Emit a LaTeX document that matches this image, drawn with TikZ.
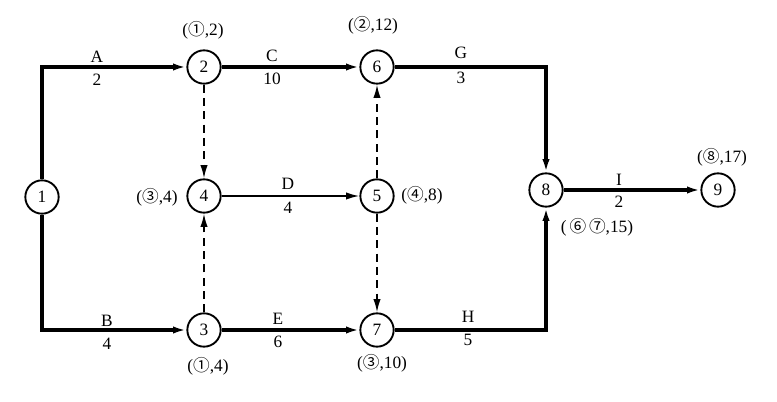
\documentclass[tikz,border=0pt]{standalone}
\usepackage{fontspec}
\setmainfont{Liberation Serif}
\newfontfamily\circfont{Noto Sans CJK SC}
\usetikzlibrary{arrows.meta}
\newcommand{\cn}[1]{{\circfont\fontsize{12.5}{14}\selectfont #1}}
\begin{document}
\begin{tikzpicture}[x=0.75pt,y=-0.75pt,
  ev/.style={circle,draw,line width=1.4pt,minimum size=25pt,inner sep=0pt,font=\fontsize{13}{15}\selectfont},
  lbl/.style={inner sep=0pt,font=\fontsize{13}{15}\selectfont},
  crit/.style={line width=2.3pt,-{Latex[length=10pt,width=5.5pt]}},
  norm/.style={line width=1.3pt,-{Latex[length=10pt,width=5.5pt]}},
  dum/.style={line width=1.2pt,dash pattern=on 6pt off 4pt,-{Latex[length=10pt,width=5.5pt]}}]
\useasboundingbox[fill=white] (0,0) rectangle (777,402);
% events
\node[ev] (n1) at (42,197) {1};
\node[ev] (n2) at (204,67) {2};
\node[ev] (n6) at (377,67) {6};
\node[ev] (n4) at (204,196) {4};
\node[ev] (n5) at (377,196) {5};
\node[ev] (n3) at (204,330) {3};
\node[ev] (n7) at (377,330) {7};
\node[ev] (n8) at (546,190) {8};
\node[ev] (n9) at (718,190) {9};
% activities
\draw[crit] (n1) |- (n2);
\draw[crit] (n1) |- (n3);
\draw[crit] (n2) -- (n6);
\draw[crit] (n3) -- (n7);
\draw[crit] (n6) -| (n8);
\draw[crit] (n7) -| (n8);
\draw[crit] (n8) -- (n9);
\draw[norm] (n4) -- (n5);
% dummies
\draw[dum] (n2) -- (n4);
\draw[dum] (n3) -- (n4);
\draw[dum] (n5) -- (n6);
\draw[dum] (n5) -- (n7);
% activity labels
\node[lbl] (lA) at (97,57) {A};   \node[lbl] (dA) at (97,80) {2};
\node[lbl] (lC) at (272,56) {C};  \node[lbl] (dC) at (272,79) {10};
\node[lbl] (lG) at (461,53) {G};  \node[lbl] (dG) at (461,78) {3};
\node[lbl] (lD) at (288,184) {D}; \node[lbl] (dD) at (288,208) {4};
\node[lbl] (lI) at (619,180) {I}; \node[lbl] (dI) at (619,202) {2};
\node[lbl] (lB) at (107,321) {B}; \node[lbl] (dB) at (107,344) {4};
\node[lbl] (lE) at (278,319) {E}; \node[lbl] (dE) at (278,342) {6};
\node[lbl] (lH) at (468,317) {H}; \node[lbl] (dH) at (468,340) {5};
% event annotations
\node[lbl] (a2) at (203,30) {(\cn{①},2)};
\node[lbl] (a6) at (373,25) {(\cn{②},12)};
\node[lbl] (a4) at (157,197) {(\cn{③},4)};
\node[lbl] (a5) at (422,195) {(\cn{④},8)};
\node[lbl] (a9) at (722,157) {(\cn{⑧},17)};
\node[lbl] (a8) at (597,227) {(\,\cn{⑥\,⑦},15)};
\node[lbl] (a3) at (208,366) {(\cn{①},4)};
\node[lbl] (a7) at (382,363) {(\cn{③},10)};
\end{tikzpicture}
\end{document}
